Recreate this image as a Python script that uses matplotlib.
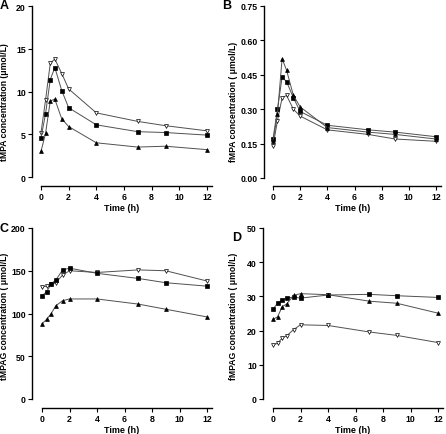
import matplotlib as mpl
mpl.use('Agg')
import matplotlib.pyplot as plt

plt.rcParams['font.family'] = ['Liberation Sans', 'DejaVu Sans']
plt.rcParams['font.weight'] = 'bold'

time_h = [0, 0.33, 0.67, 1, 1.5, 2, 4, 7, 9, 12]

# panel A: total MPA
a_down = [5.2, 9.0, 13.3, 13.8, 12.1, 10.3, 7.5, 6.5, 6.0, 5.4]
a_square = [4.6, 7.4, 11.4, 12.8, 10.1, 8.1, 6.1, 5.3, 5.2, 4.9]
a_up = [3.0, 5.1, 8.9, 9.1, 6.8, 5.9, 4.0, 3.5, 3.6, 3.2]

# panel B: free MPA
b_down = [0.14, 0.25, 0.35, 0.36, 0.30, 0.27, 0.21, 0.19, 0.17, 0.16]
b_square = [0.17, 0.30, 0.44, 0.42, 0.35, 0.29, 0.23, 0.21, 0.20, 0.18]
b_up = [0.16, 0.28, 0.52, 0.47, 0.36, 0.31, 0.22, 0.20, 0.19, 0.17]

# panel C: total MPAG
c_down = [131, 132, 134, 136, 145, 150, 148, 151, 150, 138]
c_square = [121, 125, 135, 139, 151, 153, 147, 141, 136, 132]
c_up = [88, 93, 100, 109, 115, 117, 117, 111, 105, 96]

# panel D: free MPAG
d_down = [15.8, 16.3, 17.8, 18.5, 20.3, 21.7, 21.5, 19.6, 18.6, 16.5]
d_square = [26.3, 28.0, 29.0, 29.5, 29.8, 29.5, 30.4, 30.6, 30.2, 29.7]
d_up = [23.3, 24.0, 27.0, 27.8, 30.3, 30.8, 30.5, 28.6, 28.0, 25.1]

x_ticks = [0, 2, 4, 6, 8, 10, 12]

W, H = 446, 435


def make_panel(fig, letter, series, ylabel, ymax, yticks, yfmt, px, lab_px, let_px):
  # px: left spine, x=0, x=12, right end, y top, y zero, x-spine (all pixels)
  xl, x0, x12, xr, yt, y0, ys = px
  sx = (x12 - x0) / 12.0
  sy = (y0 - yt) / float(ymax)
  xmin = (xl - x0) / sx
  xmax = (xr - x0) / sx
  ymin = -(ys - y0) / sy
  ax = fig.add_axes([xl / W, 1 - ys / H, (xr - xl) / W, (ys - yt) / H])
  ax.set_xlim(xmin, xmax)
  ax.set_ylim(ymin, ymax)

  styles = [('v', 'white'), ('s', 'black'), ('^', 'black')]
  for ys_, (m, fc) in zip(series, styles):
    ax.plot(time_h, ys_, '-', color='#505050', lw=0.7, marker=m,
            ms=2.8 if m != 's' else 2.4, mfc=fc, mec='black', mew=0.5)

  for s in ['top', 'right']:
    ax.spines[s].set_visible(False)
  ax.spines['left'].set_bounds(0, ymax)
  ax.spines['bottom'].set_bounds(0, xmax)
  ax.spines['left'].set_linewidth(1.0)
  ax.spines['bottom'].set_linewidth(1.0)
  ax.set_xticks(x_ticks)
  ax.set_yticks(yticks)
  ax.set_yticklabels([yfmt.format(v) for v in yticks])
  ax.tick_params(direction='out', length=3, width=0.8, labelsize=6.3, pad=1.5)
  for lab in ax.get_xticklabels() + ax.get_yticklabels():
    lab.set_fontweight('bold')
  ax.set_xlabel('Time (h)', fontsize=6.5, fontweight='bold', labelpad=1)
  fig.text(lab_px[0] / W, 1 - lab_px[1] / H, ylabel, rotation=90,
           fontsize=6.2, fontweight='bold', ha='center', va='center')
  fig.text(let_px[0] / W, 1 - let_px[1] / H, letter, fontsize=9,
           fontweight='bold', ha='left', va='center')
  return ax


fig = plt.figure(figsize=(W / 100.0, H / 100.0), dpi=100)

make_panel(fig, 'A', [a_down, a_square, a_up],
           'tMPA concentration (\u03bcmol/L)', 20, [0, 5, 10, 15, 20], '{:g}',
           (32, 41, 207, 212, 7, 178, 187), (5, 102), (0, 6))
make_panel(fig, 'B', [b_down, b_square, b_up],
           'fMPA concentration ( \u03bcmol/L)', 0.75,
           [0, 0.15, 0.30, 0.45, 0.60, 0.75], '{:.2f}',
           (264, 273, 436, 441, 7, 179, 187), (234, 102), (222, 6))
make_panel(fig, 'C', [c_down, c_square, c_up],
           'tMPAG concentration ( \u03bcmol/L)', 200, [0, 50, 100, 150, 200], '{:g}',
           (32, 42, 207, 212, 229, 400, 409), (5, 316), (0, 229))
make_panel(fig, 'D', [d_down, d_square, d_up],
           'fMPAG concentration ( \u03bcmol/L)', 50, [0, 10, 20, 30, 40, 50], '{:g}',
           (263, 273, 438, 443, 229, 400, 409), (234, 316), (232, 238))

plt.savefig('out.png', dpi=100)
